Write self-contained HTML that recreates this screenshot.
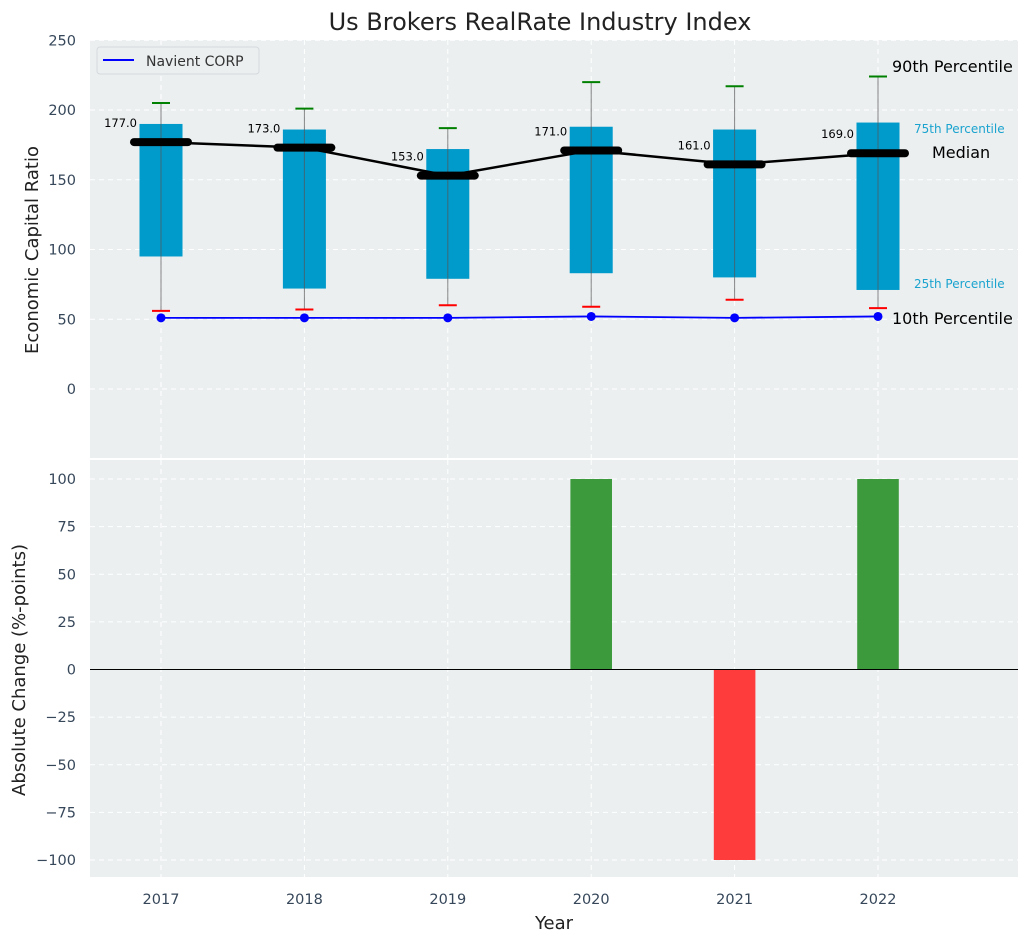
<!DOCTYPE html>
<html><head><meta charset="utf-8"><style>
body{margin:0;background:#fff;font-family:"Liberation Sans","DejaVu Sans",sans-serif}
svg text{font-family:"DejaVu Sans","Liberation Sans",sans-serif}
</style></head><body>
<svg id="c" width="1029" height="942" xmlns="http://www.w3.org/2000/svg"></svg>
<script>
const years=["2017","2018","2019","2020","2021","2022"];
const q90=[205,201,187,220,217,224];
const q75=[190,186,172,188,186,191];
const medians=[177,173,153,171,161,169];
const q25=[95,72,79,83,80,71];
const q10=[56,57,60,59,64,58];
const navient=[51,51,51,52,51,52];
const changes=[0,0,0,100,-100,100];
const topTicks=[0,50,100,150,200,250];
const botTicks=[-100,-75,-50,-25,0,25,50,75,100];

const svg=document.getElementById('c');
const NS='http://www.w3.org/2000/svg';
function el(tag,attrs,name,parent){const e=document.createElementNS(NS,tag);for(const k in attrs)e.setAttribute(k,attrs[k]);


(parent||svg).appendChild(e);return e;}
function txt(x,y,s,attrs,name){const t=el('text',Object.assign({x:x,y:y},attrs),name);t.textContent=s;return t;}
const L=90,R=1018;
const pxPer=143.4;
const x=i=>161+i*pxPer;
const T0=40,T1=458,yT=v=>389-v*1.395;
const B0=460,B1=877,yB=v=>669.5-v*1.905;

el('rect',{x:L,y:T0,width:R-L,height:T1-T0,fill:'#ebeff0'},'top-plot-area');
el('rect',{x:L,y:B0,width:R-L,height:B1-B0,fill:'#ebeff0'},'bottom-plot-area');
topTicks.forEach(v=>{el('line',{x1:L,x2:R,y1:yT(v),y2:yT(v),stroke:'#fff','stroke-dasharray':'5,4'},'top-grid-line');
txt(76,yT(v)+5,String(v),{'text-anchor':'end','font-size':14.5,fill:'#36475a'},'top-y-tick');});
botTicks.forEach(v=>{el('line',{x1:L,x2:R,y1:yB(v),y2:yB(v),stroke:'#fff','stroke-dasharray':'5,4'},'bottom-grid-line');
txt(76,yB(v)+5,v<0?'\u2212'+(-v):String(v),{'text-anchor':'end','font-size':14.5,fill:'#36475a'},'bottom-y-tick');});
years.forEach((y,i)=>{el('line',{x1:x(i),x2:x(i),y1:T0,y2:T1,stroke:'#fff','stroke-dasharray':'5,4'},'top-x-grid');
el('line',{x1:x(i),x2:x(i),y1:B0,y2:B1,stroke:'#fff','stroke-dasharray':'5,4'},'bottom-x-grid');
txt(x(i),904,y,{'text-anchor':'middle','font-size':14.5,fill:'#36475a'},'x-tick-label');});
years.forEach((y,i)=>{
 const bw=0.3*pxPer;
 el('rect',{x:x(i)-bw/2,y:yT(q75[i]),width:bw,height:yT(q25[i])-yT(q75[i]),fill:'#009acb'},'iqr-box-'+y);
 el('line',{x1:x(i),x2:x(i),y1:yT(q90[i]),y2:yT(q10[i]),stroke:'#555',"stroke-width":1,opacity:0.7},'whisker-'+y);
 el('line',{x1:x(i)-9,x2:x(i)+9,y1:yT(q90[i]),y2:yT(q90[i]),stroke:'green','stroke-width':2},'p90-cap-'+y);
 el('line',{x1:x(i)-9,x2:x(i)+9,y1:yT(q10[i]),y2:yT(q10[i]),stroke:'red','stroke-width':2},'p10-cap-'+y);
 el('line',{x1:x(i)-27,x2:x(i)+27,y1:yT(medians[i]),y2:yT(medians[i]),stroke:'#000','stroke-width':8,'stroke-linecap':'round'},'median-bar-'+y);
 txt(x(i)-24,yT(medians[i])-15,medians[i].toFixed(1),{'text-anchor':'end','font-size':11.5,fill:'#000'},'median-label-'+y);
});
el('polyline',{points:medians.map((v,i)=>x(i)+','+yT(v)).join(' '),fill:'none',stroke:'#000','stroke-width':2.5},'median-line');
el('polyline',{points:navient.map((v,i)=>x(i)+','+yT(v)).join(' '),fill:'none',stroke:'blue','stroke-width':1.8},'navient-line');
navient.forEach((v,i)=>el('circle',{cx:x(i),cy:yT(v),r:4.5,fill:'blue'},'navient-point'));
const xl=x(5);
txt(xl+14,72,'90th Percentile',{'font-size':16,fill:'#000'},'p90-annotation');
txt(xl+36,133,'75th Percentile',{'font-size':12,fill:'#1aa3cf'},'p75-annotation');
txt(xl+54,158,'Median',{'font-size':16,fill:'#000'},'median-annotation');
txt(xl+36,288,'25th Percentile',{'font-size':12,fill:'#1aa3cf'},'p25-annotation');
txt(xl+14,324,'10th Percentile',{'font-size':16,fill:'#000'},'p10-annotation');
const lg=el('g',{},'legend');
el('rect',{x:97,y:47,width:162,height:27,rx:3,fill:'#ebeff0',stroke:'#d5d8dc'},'legend-box',lg);
el('line',{x1:103,x2:134,y1:60,y2:60,stroke:'blue','stroke-width':2},'legend-swatch',lg);
txt(146,66,'Navient CORP',{'font-size':14,fill:'#333'},'legend-label');
years.forEach((y,i)=>{const v=changes[i];if(!v)return;const bw=0.29*pxPer;
 el('rect',{x:x(i)-bw/2,y:Math.min(yB(v),yB(0)),width:bw,height:Math.abs(yB(v)-yB(0)),fill:v>0?'#3c9a3c':'#fe3c3c'},'change-bar-'+y);});
el('line',{x1:L,x2:R,y1:yB(0),y2:yB(0),stroke:'#000','stroke-width':1},'zero-line');
txt(540,30,'Us Brokers RealRate Industry Index',{'text-anchor':'middle','font-size':24,fill:'#222'},'chart-title');
txt(0,0,'Economic Capital Ratio',{'text-anchor':'middle','font-size':18,fill:'#222',transform:'translate(38,250) rotate(-90)'},'top-y-axis-title');
txt(0,0,'Absolute Change (%-points)',{'text-anchor':'middle','font-size':18,fill:'#222',transform:'translate(25,670) rotate(-90)'},'bottom-y-axis-title');
txt(554,929,'Year',{'text-anchor':'middle','font-size':18,fill:'#222'},'x-axis-title');
</script>
</body></html>
